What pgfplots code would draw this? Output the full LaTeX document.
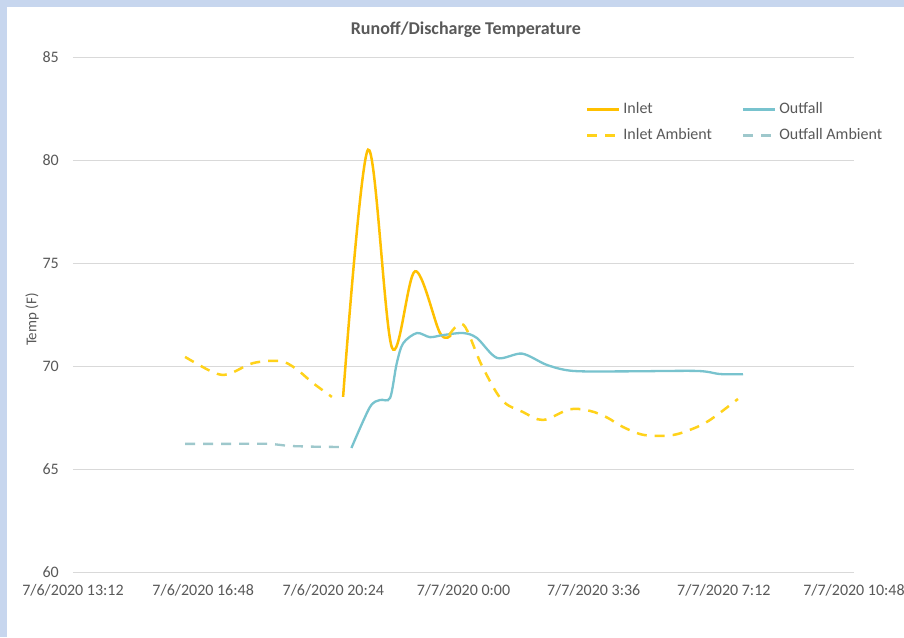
\documentclass[border=0pt]{standalone}
\usepackage{fontspec}
\setmainfont{Carlito}
\usepackage{pgfplots}
\pgfplotsset{compat=1.18}
\definecolor{inletc}{HTML}{FFC000}
\definecolor{inletamb}{HTML}{FFD21A}
\definecolor{outc}{HTML}{78C3CE}
\definecolor{outamb}{HTML}{9EC8CC}
\definecolor{gridc}{HTML}{D9D9D9}
\definecolor{txt}{HTML}{595959}
\definecolor{frame}{HTML}{C7D6EE}
\begin{document}
\begin{tikzpicture}
\useasboundingbox (-73pt,-65pt) rectangle (831pt,572pt);
\fill[white] (-73pt,-65pt) rectangle (831pt,572pt);
\fill[frame] (-73pt,565pt) rectangle (831pt,572pt);
\fill[frame] (-73pt,-65pt) rectangle (-66pt,572pt);
\begin{axis}[
  at={(0pt,0pt)}, anchor=south west,
  scale only axis, width=781pt, height=515pt,
  xmin=13.2, xmax=34.8, ymin=60, ymax=85,
  xtick={13.2,16.8,20.4,24,27.6,31.2,34.8},
  xticklabels={7/6/2020 13:12,7/6/2020 16:48,7/6/2020 20:24,7/7/2020 0:00,7/7/2020 3:36,7/7/2020 7:12,7/7/2020 10:48},
  ytick={60,65,70,75,80,85},
  /pgf/number format/assume math mode=true,
  ymajorgrids, grid style={draw=gridc, line width=0.9pt},
  axis line style={draw=none}, tick style={draw=none},
  ticklabel style={font=\fontsize{16}{19}\selectfont, text=txt},
  yticklabel style={anchor=east, inner sep=0pt, xshift=-14pt},
  xticklabel style={anchor=north, inner sep=0pt, yshift=-12pt},
  ylabel={Temp (F)},
  ylabel style={at={(axis description cs:-0.0525,0.49)}, anchor=center, font=\fontsize{15}{18}\selectfont, text=txt},
  title={Runoff/Discharge Temperature},
  title style={at={(axis description cs:0.503,1)}, anchor=center, yshift=21pt, font=\fontsize{18}{21}\selectfont\bfseries, text=txt},
  legend columns=2,
  legend cell align=left,
  legend image code/.code={\draw[#1] (0pt,0pt) -- (32pt,0pt);},
  legend style={at={(axis description cs:0.6565,0.914)}, anchor=north west, draw=none, fill=none, inner sep=0pt,
    font=\fontsize{16}{19}\selectfont, text=txt,
    nodes={inner sep=1pt, text height=11pt, text depth=3pt},
    column sep=0pt, row sep=10pt,
    /tikz/every odd column/.append style={column sep=2pt},
    /tikz/every even column/.append style={column sep=29pt}},
]
\addplot[color=inletc, line width=2.5pt, smooth, tension=0.55] coordinates {
(20.67,68.5) (21.36,80.5) (22.02,70.9) (22.66,74.6) (23.35,71.6) (23.65,71.5)
};
\addlegendentry{Inlet}
\addplot[color=outc, line width=2.3pt, smooth, tension=0.5] coordinates {
(20.9,66.02) (21.41,68.0) (21.69,68.35) (21.97,68.45) (22.15,70.1) (22.33,71.1) (22.71,71.6) (23.07,71.4) (23.43,71.5) (23.99,71.6) (24.37,71.36) (24.93,70.39) (25.62,70.6) (26.31,70.05) (27.03,69.76) (28.5,69.74) (30.46,69.76) (31.09,69.61) (31.73,69.6)
};
\addlegendentry{Outfall}
\addplot[color=inletamb, line width=2.5pt, dash pattern=on 10pt off 8pt, smooth, tension=0.55] coordinates {
(16.3,70.44) (17.07,69.7) (17.49,69.6) (18.18,70.14) (18.92,70.24) (19.34,69.9) (19.84,69.17) (20.36,68.5)
};
\addlegendentry{Inlet Ambient}
\addplot[color=outamb, line width=2.3pt, dash pattern=on 10pt off 8pt, smooth, tension=0.5] coordinates {
(16.3,66.22) (17.5,66.22) (18.6,66.22) (19.2,66.12) (20.0,66.08) (20.7,66.07)
};
\addlegendentry{Outfall Ambient}
\addplot[forget plot, color=inletamb, line width=2.5pt, dash pattern=on 10pt off 8pt, smooth, tension=0.55] coordinates {
(23.6,71.5) (24.0,72.0) (24.5,70.05) (25.06,68.35) (25.64,67.77) (26.2,67.38) (26.94,67.9) (27.5,67.82) (27.97,67.5) (28.41,67.04) (29.0,66.65) (29.79,66.65) (30.46,67.04) (30.9,67.48) (31.59,68.4)
};
\end{axis}
\end{tikzpicture}
\end{document}
